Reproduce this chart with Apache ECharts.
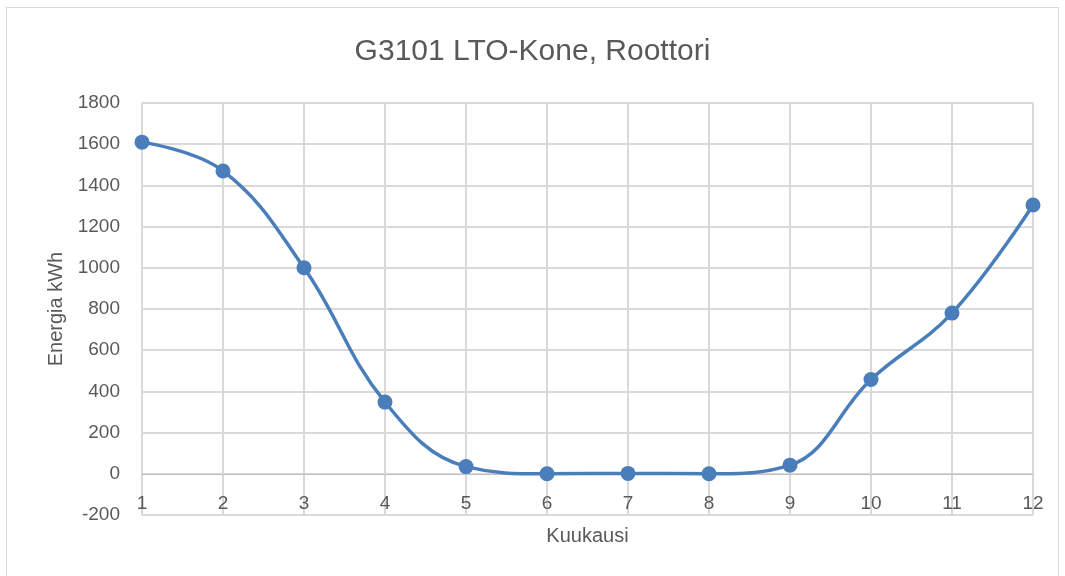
<!DOCTYPE html>
<html>
<head>
<meta charset="utf-8">
<title>G3101 LTO-Kone, Roottori</title>
<script src="https://cdn.jsdelivr.net/npm/echarts@6/dist/echarts.min.js"></script>
<style>
  html, body { margin: 0; padding: 0; background: #fff; }
  #frame { position: absolute; left: 6px; top: 7px; width: 1053px; height: 580px; border: 1px solid #d9d9d9; box-sizing: border-box; }
  #chart { position: absolute; left: 0; top: 0; width: 1065px; height: 576px; }
</style>
</head>
<body>
<div id="frame"></div>
<div id="chart"></div>
<script>
// months and energy per month (kWh)
const months = ['1', '2', '3', '4', '5', '6', '7', '8', '9', '10', '11', '12'];
const energy = [1610, 1470, 1000, 348, 35, 0, 2, 0, 42, 458, 780, 1305];
const yTicks = { min: -200, max: 1800, step: 200 };

const font = '"Liberation Sans", Arial, sans-serif';
const textColor = '#595959';
const gridColor = '#d9d9d9';

const gridTop = 103, gridBottom = 61, chartH = 576;
// the category axis sits on the zero line, as in the spreadsheet
const plotH = chartH - gridTop - gridBottom;
const zeroOffset = -plotH * (0 - yTicks.min) / (yTicks.max - yTicks.min);

const chart = echarts.init(document.getElementById('chart'));
chart.setOption({
  animation: false,
  title: {
    text: 'G3101 LTO-Kone, Roottori',
    left: 'center',
    top: 32,
    textStyle: { fontFamily: font, fontSize: 30, fontWeight: 'normal', color: textColor }
  },
  grid: { left: 142, right: 32, top: gridTop, bottom: gridBottom, outerBoundsMode: 'none' },
  xAxis: {
    type: 'category',
    data: months,
    boundaryGap: false,
    offset: zeroOffset,
    name: 'Kuukausi',
    nameLocation: 'middle',
    nameGap: 53,
    nameTextStyle: { fontFamily: font, fontSize: 20, color: textColor },
    axisLine: { onZero: false, lineStyle: { color: '#bfbfbf', width: 1 } },
    axisTick: { show: false },
    axisLabel: { fontFamily: font, fontSize: 19, color: textColor, margin: 20 },
    splitLine: { show: true, lineStyle: { color: gridColor, width: 2 } }
  },
  yAxis: {
    type: 'value',
    min: yTicks.min,
    max: yTicks.max,
    interval: yTicks.step,
    name: 'Energia kWh',
    nameLocation: 'middle',
    nameGap: 76,
    nameTextStyle: { fontFamily: font, fontSize: 20, color: textColor },
    axisLine: { show: false },
    axisTick: { show: false },
    axisLabel: { fontFamily: font, fontSize: 19, color: textColor, margin: 22, formatter: v => String(v) },
    splitLine: { show: true, lineStyle: { color: gridColor, width: 2 } }
  },
  series: [{
    type: 'line',
    data: energy,
    smooth: 0.4,
    symbol: 'circle',
    symbolSize: 15,
    lineStyle: { color: '#4a7ebb', width: 3.5 },
    itemStyle: { color: '#4a7ebb' }
  }]
});
</script>
</body>
</html>
